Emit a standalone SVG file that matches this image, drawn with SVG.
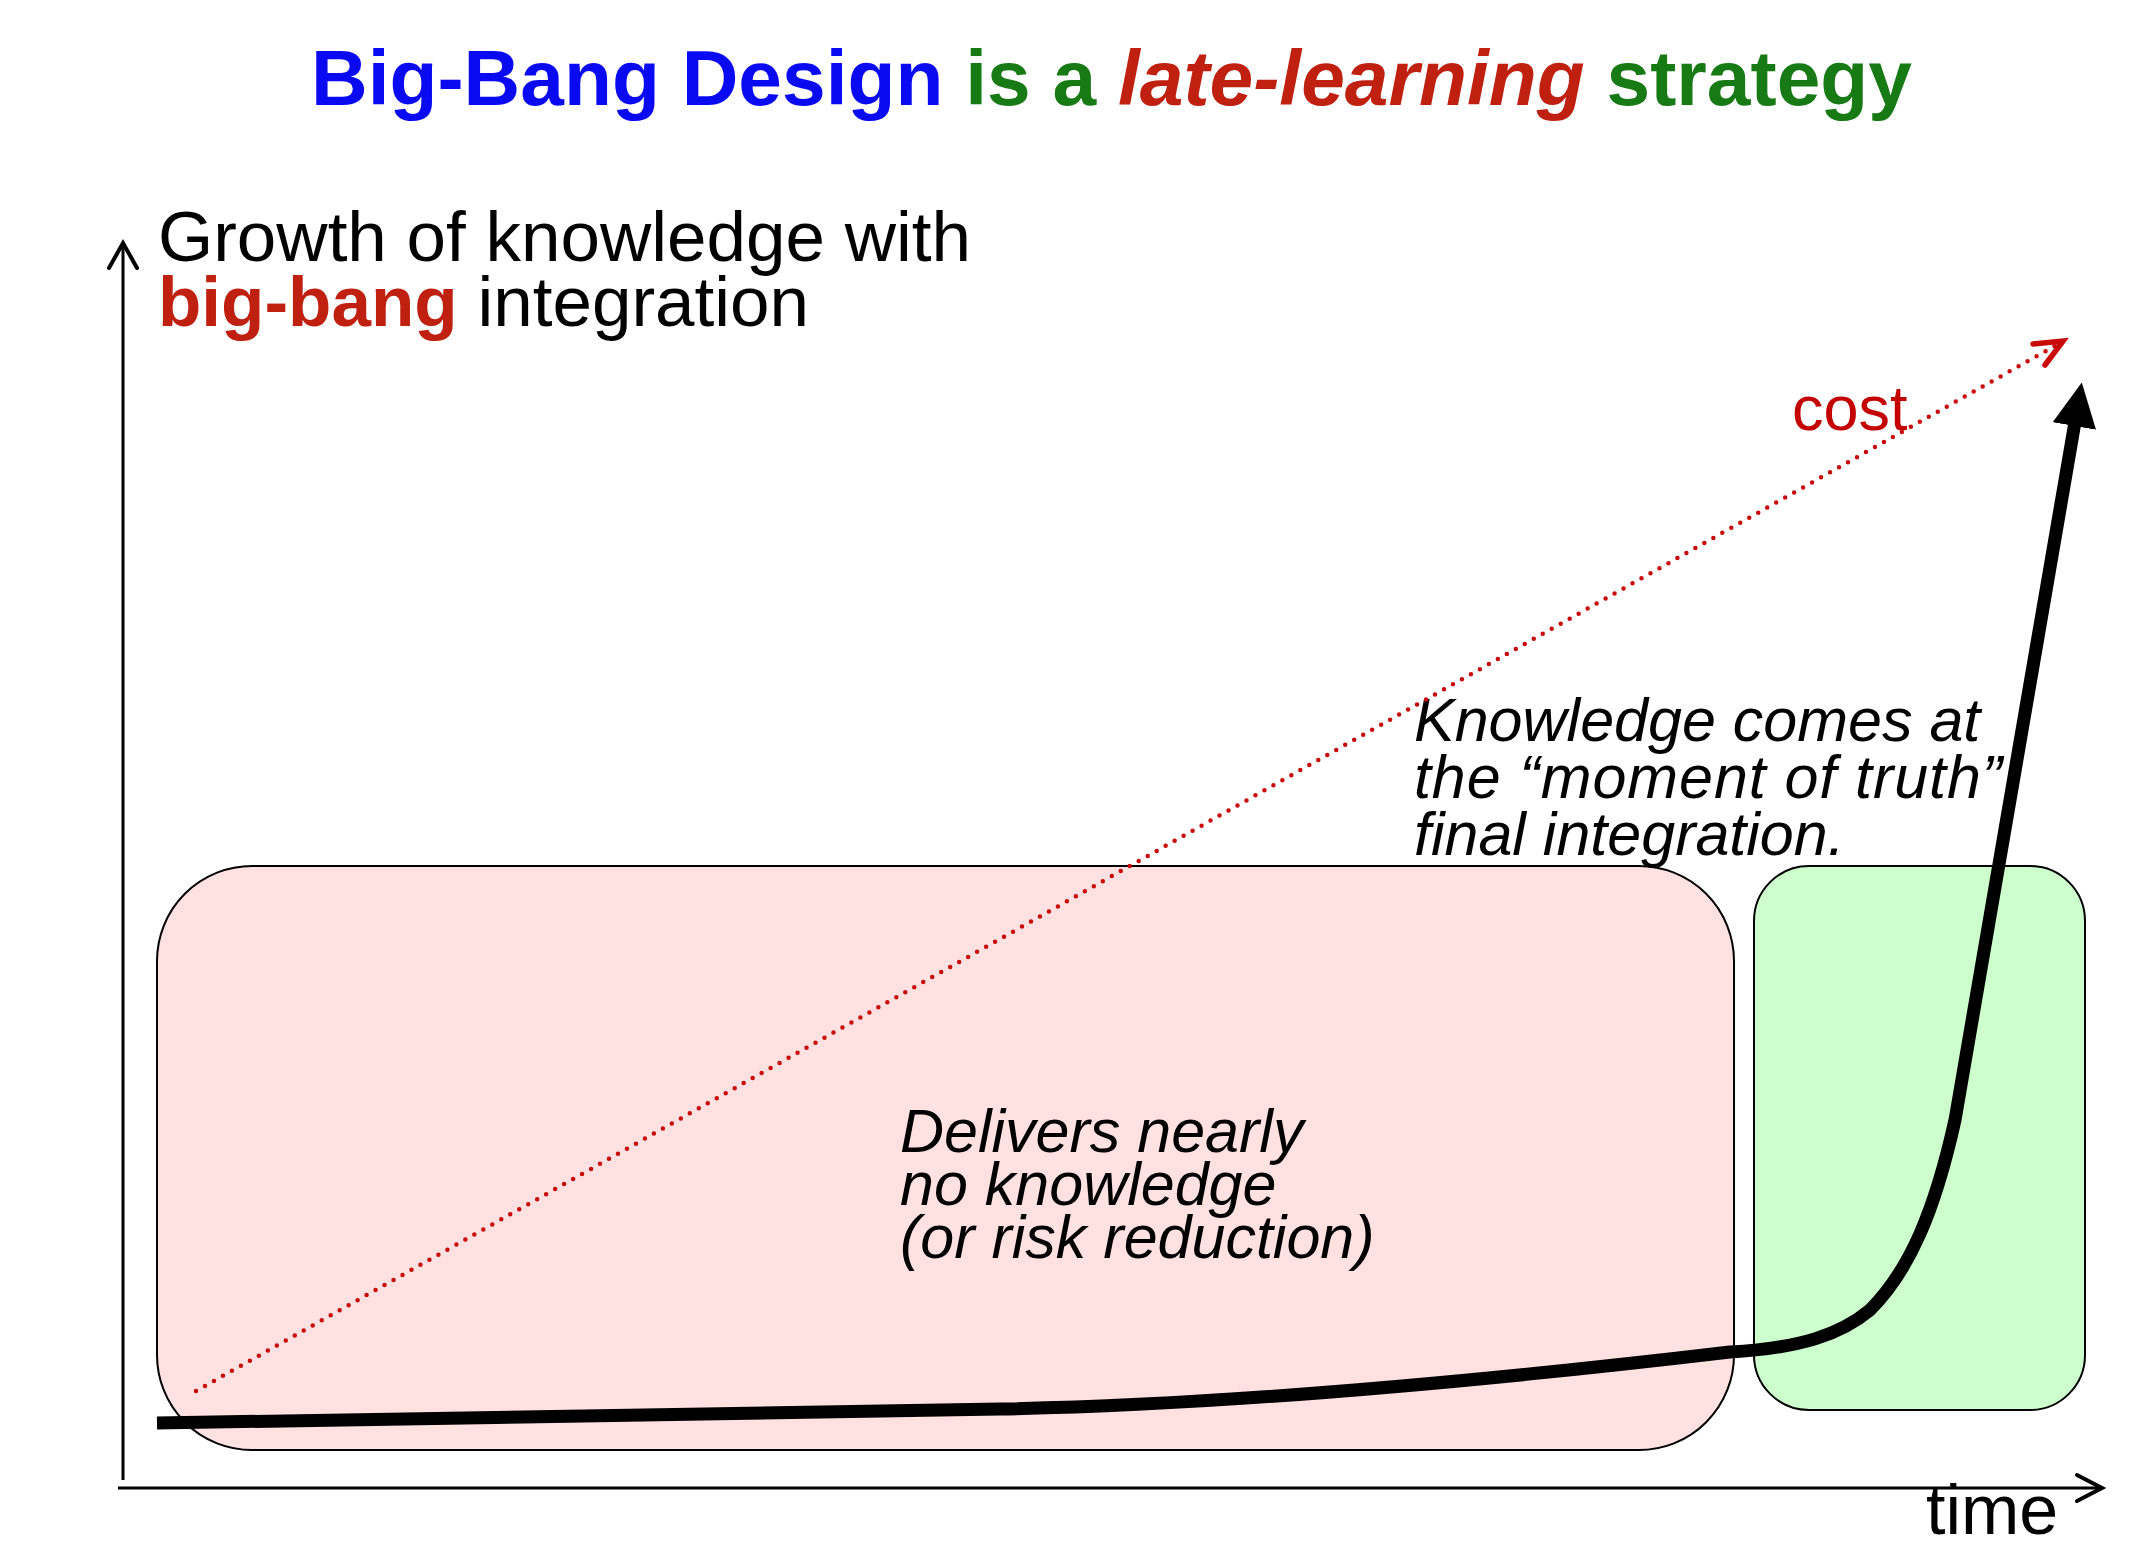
<svg xmlns="http://www.w3.org/2000/svg" width="2150" height="1546" viewBox="0 0 2150 1546">
<style>
  text { font-family: "Liberation Sans", Arial, Helvetica, sans-serif; }
  .title { font-size: 78.5px; font-weight: bold; }
  .blue { fill: #0a0af2; }
  .green { fill: #177a14; }
  .red { fill: #c0200f; }
  .lbl { font-size: 71px; fill: #000; }
  .note { font-size: 61px; font-style: italic; fill: #000; }
  .axis { stroke: #000; stroke-width: 3; fill: none; }
  .chev { stroke: #000; stroke-width: 4; fill: none; stroke-linecap: round; stroke-linejoin: miter; }
  .box { stroke: #000; stroke-width: 2; }
</style>
<defs>
  <marker id="bigArrow" markerUnits="userSpaceOnUse" viewBox="0 0 44 44" refX="4" refY="22" markerWidth="44" markerHeight="44" orient="auto">
    <path d="M0,0 L44,22 L0,44 Z" fill="#000"/>
  </marker>
</defs>
<rect width="2150" height="1546" fill="#fff"/>

<text class="title" x="311" y="105"><tspan class="blue">Big-Bang Design</tspan><tspan class="green"> is a </tspan><tspan class="red" font-style="italic">late-learning</tspan><tspan class="green"> strategy</tspan></text>

<g id="axes">
  <line class="axis" x1="123" y1="244" x2="123" y2="1480"/>
  <polyline class="chev" points="109,268 123,243 137,268"/>
  <line class="axis" x1="118" y1="1488" x2="2101" y2="1488"/>
  <polyline class="chev" points="2077,1475 2102,1488 2077,1501"/>
  <text x="1926" y="1534" font-size="70" fill="#000">time</text>
</g>

<g id="ylabel">
  <text class="lbl" x="158" y="261">Growth of knowledge with</text>
  <text class="lbl" x="158" y="326"><tspan class="red" font-weight="bold">big-bang</tspan> integration</text>
</g>

<g id="phase-bigbang">
  <rect class="box" x="157" y="866" width="1577" height="584" rx="95" ry="95" fill="#ffe1e1"/>
  <text class="note" x="900" y="1152">Delivers nearly</text>
  <text class="note" x="900" y="1205">no knowledge</text>
  <text class="note" x="900" y="1258">(or risk reduction)</text>
</g>

<g id="phase-integration">
  <rect class="box" x="1754" y="866" width="331" height="544" rx="55" ry="55" fill="#ccffcc"/>
</g>

<g id="moment-label">
  <text class="note" font-size="60" x="1414" y="741">Knowledge comes at</text>
  <text class="note" font-size="60" x="1414" y="798" textLength="606" lengthAdjust="spacing">the “moment of truth”:</text>
  <text class="note" font-size="60" x="1414" y="855">final integration.</text>
</g>

<g id="cost-label">
  <text x="1792" y="430" font-size="63" fill="#c40000">cost</text>
</g>

<g id="connectors">
  <line x1="196" y1="1391" x2="2060" y2="343" stroke="#c80a0a" stroke-width="4.5" stroke-linecap="round" stroke-dasharray="0 10.3"/>
  <polyline points="2033,344 2063,341 2045,365" fill="none" stroke="#c80a0a" stroke-width="5.5" stroke-linejoin="miter" stroke-linecap="round"/>
  <path d="M157,1423 L1000,1409 C1200,1405.6 1450,1385 1730,1352 C1800,1348 1840,1335 1870,1310 C1910,1270 1935,1210 1955,1120 L2075,422" fill="none" stroke="#000" stroke-width="13" marker-end="url(#bigArrow)"/>
</g>
</svg>
